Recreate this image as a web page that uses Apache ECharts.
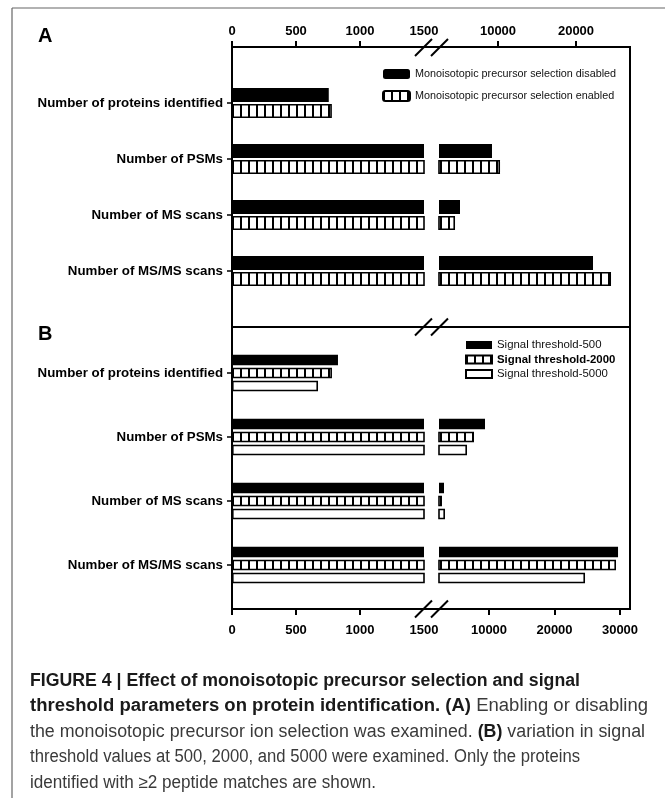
<!DOCTYPE html>
<html><head><meta charset="utf-8">
<script src="https://cdn.jsdelivr.net/npm/echarts@6/dist/echarts.min.js"></script>
<style>
html,body{margin:0;padding:0;background:#fff;width:665px;height:798px;overflow:hidden}
#chart{position:absolute;left:0;top:0;width:665px;height:798px}
#cap{position:absolute;left:30px;top:668px;width:700px;font-family:'Liberation Sans',Arial,sans-serif;font-size:17.6px;line-height:25.4px;color:#3a3a3a;white-space:nowrap}
#cap .ln{display:inline-block;transform-origin:0 50%}
#cap b{color:#1a1a1a}
</style></head>
<body>
<div id="chart"></div>
<div id="cap"><span class="ln" data-w="550"><b>FIGURE 4 | Effect of monoisotopic precursor selection and signal</b></span><br><span class="ln" data-w="618"><b>threshold parameters on protein identification. (A)</b> Enabling or disabling</span><br><span class="ln" data-w="615">the monoisotopic precursor ion selection was examined. <b>(B)</b> variation in signal</span><br><span class="ln" data-w="550">threshold values at 500, 2000, and 5000 were examined. Only the proteins</span><br><span class="ln" data-w="346">identified with ≥2 peptide matches are shown.</span></div>
<script>
// ---- data ----
const categories = ['Number of proteins identified', 'Number of PSMs', 'Number of MS scans', 'Number of MS/MS scans'];
const seriesNamesA = ['Monoisotopic precursor selection disabled', 'Monoisotopic precursor selection enabled'];
const disabledA = [756, 9230, 5130, 22180];
const enabledA = [780, 10260, 4490, 24490];
const seriesNamesB = ['Signal threshold-500', 'Signal threshold-2000', 'Signal threshold-5000'];
const thr500 = [828, 9390, 3130, 29700];
const thr2000 = [781, 7710, 2820, 29390];
const thr5000 = [672, 6640, 3280, 24660];
const leftTicks = [0, 500, 1000, 1500];
const rightTicksA = [10000, 20000];
const rightTicksB = [10000, 20000, 30000];

// caption line fitting
document.querySelectorAll('#cap .ln').forEach(el => {
  const w = el.getBoundingClientRect().width;
  const t = +el.dataset.w;
  if (w > 0) el.style.transform = 'scaleX(' + (t / w).toFixed(4) + ')';
});

// ---- styles ----
const FONT = '"Liberation Sans", Arial, sans-serif';
function makePattern() {
  const c = document.createElement('canvas');
  c.width = 8; c.height = 8;
  const g = c.getContext('2d');
  g.fillStyle = '#fff'; g.fillRect(0, 0, 8, 8);
  g.fillStyle = '#000'; g.fillRect(0, 0, 2, 8);
  return c;
}
const hatch = { image: makePattern(), repeat: 'repeat' };
const styleSolid = { color: '#000' };
const styleHatch = { color: hatch, borderColor: '#000', borderWidth: 1.6 };
const styleOpen = { color: '#fff', borderColor: '#000', borderWidth: 1.6 };
const plain = v => String(v);

const chart = echarts.init(document.getElementById('chart'), null, { renderer: 'canvas' });

const yCat = (gi, show) => ({
  gridIndex: gi, type: 'category', data: categories, inverse: true, show: show,
  axisLine: { show: false },
  axisTick: { show: true, alignWithLabel: true, length: 5, lineStyle: { color: '#000', width: 1.5 } },
  axisLabel: { color: '#000', fontWeight: 'bold', fontSize: 13.3, fontFamily: FONT, margin: 9 }
});
const xLeft = (gi, pos, offset, margin) => ({
  gridIndex: gi, type: 'value', position: pos, offset: offset, min: 0, max: 1500, interval: 500,
  axisLine: { show: false }, splitLine: { show: false },
  axisTick: { show: true, customValues: leftTicks.slice(0, 3), length: 6, lineStyle: { color: '#000', width: 2 } },
  axisLabel: { color: '#000', fontWeight: 'bold', fontSize: 13, fontFamily: FONT, margin: margin, customValues: leftTicks, formatter: plain }
});
const xRight = (gi, pos, offset, margin, min, max, ticks) => ({
  gridIndex: gi, type: 'value', position: pos, offset: offset, min: min, max: max,
  axisLine: { show: false }, splitLine: { show: false },
  axisTick: { show: true, customValues: ticks, length: 6, lineStyle: { color: '#000', width: 2 } },
  axisLabel: { color: '#000', fontWeight: 'bold', fontSize: 13, fontFamily: FONT, margin: margin, customValues: ticks, formatter: plain }
});

function barSeries(name, data, xi, style, width, gap) {
  return { name: name, type: 'bar', xAxisIndex: xi, yAxisIndex: xi, data: data, barWidth: width, barGap: gap,
    itemStyle: style, clip: true, silent: true, animation: false };
}

const series = [];
[1, 2].forEach(i => {
  series.push(barSeries(seriesNamesA[0], disabledA, i, styleSolid, 14, '14%'));
  series.push(barSeries(seriesNamesA[1], enabledA, i, styleHatch, 14, '14%'));
});
[4, 5].forEach(i => {
  series.push(barSeries(seriesNamesB[0], thr500, i, styleSolid, 10.5, '24%'));
  series.push(barSeries(seriesNamesB[1], thr2000, i, styleHatch, 10.5, '24%'));
  series.push(barSeries(seriesNamesB[2], thr5000, i, styleOpen, 10.5, '24%'));
});

const slash = (x1, y1, x2, y2) => ({ type: 'line', shape: { x1, y1, x2, y2 }, style: { stroke: '#000', lineWidth: 2 }, z: 100 });
const breakMark = (yMid) => [slash(415, yMid + 8.5, 432, yMid - 8.5), slash(431, yMid + 8.5, 448, yMid - 8.5)];

chart.setOption({
  animation: false,
  backgroundColor: '#fff',
  textStyle: { fontFamily: FONT },
  grid: [
    { left: 232, top: 47, width: 398, height: 280, show: true, borderColor: '#000', borderWidth: 2, backgroundColor: 'transparent', outerBoundsMode: 'none' },
    { left: 232, top: 75, width: 192, height: 224, outerBoundsMode: 'none' },
    { left: 439, top: 75, width: 191, height: 224, outerBoundsMode: 'none' },
    { left: 232, top: 327, width: 398, height: 282, show: true, borderColor: '#000', borderWidth: 2, backgroundColor: 'transparent', outerBoundsMode: 'none' },
    { left: 232, top: 341, width: 192, height: 256, outerBoundsMode: 'none' },
    { left: 439, top: 341, width: 191, height: 256, outerBoundsMode: 'none' }
  ],
  xAxis: [
    { gridIndex: 0, type: 'value', show: false },
    xLeft(1, 'top', 28, 9),
    xRight(2, 'top', 28, 9, 2436, 26923, rightTicksA),
    { gridIndex: 3, type: 'value', show: false },
    xLeft(4, 'bottom', 12, 15),
    xRight(5, 'bottom', 12, 15, 2366, 31527, rightTicksB)
  ],
  yAxis: [
    { gridIndex: 0, type: 'value', show: false },
    yCat(1, true),
    yCat(2, false),
    { gridIndex: 3, type: 'value', show: false },
    yCat(4, true),
    yCat(5, false)
  ],
  legend: [
    { data: seriesNamesA, orient: 'vertical', left: 382, top: 68, padding: 0, itemWidth: 27, itemHeight: 10, itemGap: 10,
      selectedMode: false, textStyle: { fontSize: 10.8, color: '#111', fontFamily: FONT, lineHeight: 12 } },
    { data: seriesNamesB, orient: 'vertical', left: 465, top: 339, padding: 0, itemWidth: 26, itemHeight: 8, itemGap: 2.5,
      selectedMode: false, icon: 'rect',
      formatter: n => n === seriesNamesB[1] ? '{b|' + n + '}' : n,
      textStyle: { fontSize: 11.4, color: '#111', fontFamily: FONT, lineHeight: 12,
        rich: { b: { fontSize: 11.4, fontWeight: 'bold', color: '#000', fontFamily: FONT, lineHeight: 12 } } } }
  ],
  graphic: [
    { type: 'line', shape: { x1: 12, y1: 8, x2: 665, y2: 8 }, style: { stroke: '#666', lineWidth: 1.2 } },
    { type: 'line', shape: { x1: 12, y1: 8, x2: 12, y2: 798 }, style: { stroke: '#666', lineWidth: 1.2 } },
    { type: 'text', left: 38, top: 26, style: { text: 'A', font: 'bold 20px ' + FONT, fill: '#000' } },
    { type: 'text', left: 38, top: 324, style: { text: 'B', font: 'bold 20px ' + FONT, fill: '#000' } },
    ...breakMark(47.5), ...breakMark(327), ...breakMark(609)
  ],
  series: series
});
</script>
</body></html>
